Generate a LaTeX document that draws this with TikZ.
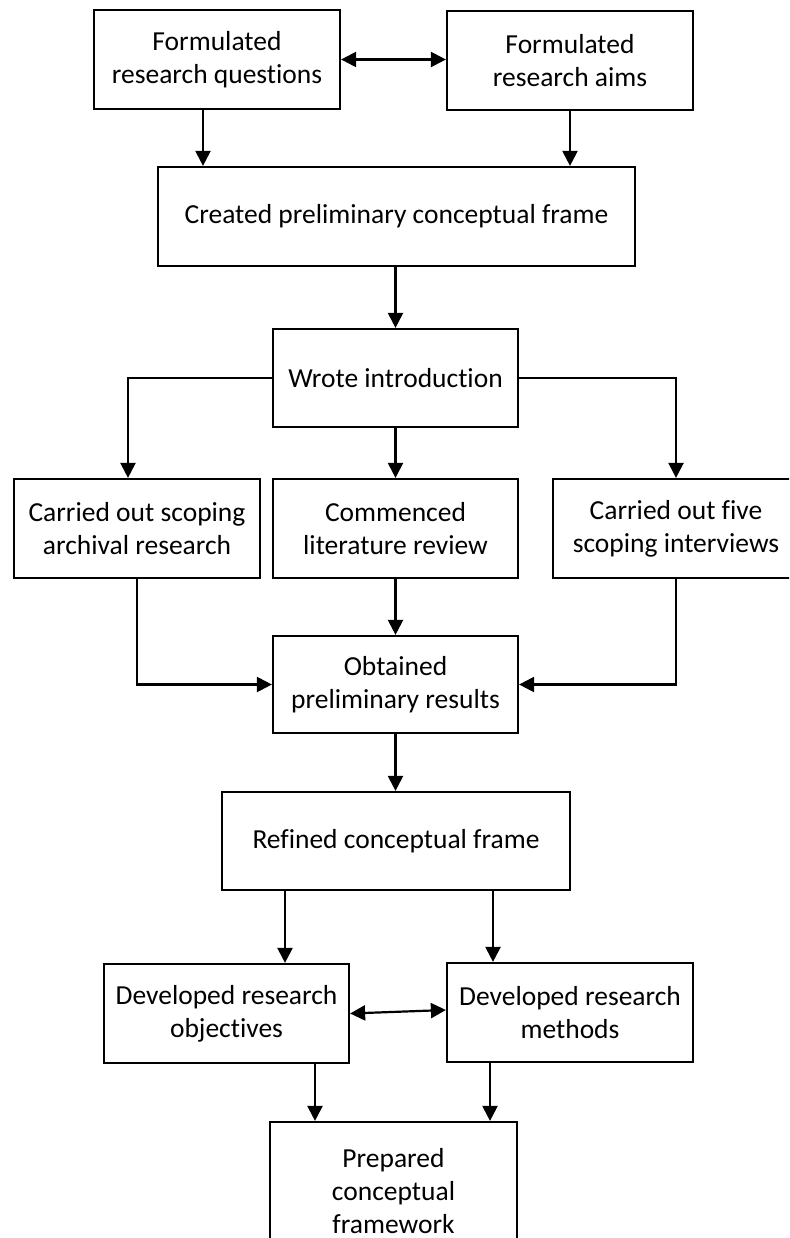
\documentclass[tikz,border=0pt]{standalone}
\usepackage{fontspec}
\setmainfont{Carlito}[RawFeature={-liga;-dlig;-clig}]
\usetikzlibrary{arrows.meta}
\tikzset{
  box/.style={draw, line width=2.2pt, align=center, inner sep=0pt,
    font=\fontsize{27.5}{33}\selectfont},
  arr/.style={line width=2.2pt, -{Triangle[length=15pt,width=15pt]}},
  darr/.style={line width=2.2pt, {Triangle[length=15pt,width=15pt]}-{Triangle[length=15pt,width=15pt]}}
}
\begin{document}
\begin{tikzpicture}[x=1pt,y=-1pt]
\useasboundingbox (0,0) rectangle (789,1238);
\clip (0,0) rectangle (789,1238);
\fill[white] (0,0) rectangle (789,1238);
\node[box, minimum width=246pt, minimum height=99pt] (b1) at (217,59.5) {Formulated\\research questions};
\node[box, minimum width=246pt, minimum height=99pt] (b2) at (570,60.5) {Formulated\\research aims};
\node[box, minimum width=477pt, minimum height=99pt] (b3) at (396.5,216.5) {Created preliminary conceptual frame};
\node[box, minimum width=245pt, minimum height=98pt] (b4) at (395.5,378) {Wrote introduction};
\node[box, minimum width=246pt, minimum height=99pt] (b5) at (137,528.5) {Carried out scoping\\archival research};
\node[box, minimum width=245pt, minimum height=99pt] (b6) at (395.5,528.5) {Commenced\\literature review};
\node[box, minimum width=246pt, minimum height=99pt] (b7) at (676,528.5) {Carried out five\\scoping interviews};
\node[box, minimum width=245pt, minimum height=97pt] (b8) at (395.5,684.5) {Obtained\\preliminary results};
\node[box, minimum width=348pt, minimum height=98pt] (b9) at (396,841) {Refined conceptual frame};
\node[box, minimum width=245pt, minimum height=99pt] (b10) at (226.5,1013.5) {Developed research\\objectives};
\node[box, minimum width=246pt, minimum height=99pt] (b11) at (570,1012.5) {Developed research\\methods};
\node[box, minimum width=247pt, minimum height=138pt] (b12) at (393.5,1191) {Prepared\\conceptual\\framework};

\draw[darr] (b1.east) -- (b1.east -| b2.west);
\draw[arr] ([xshift=-14pt]b1.south) -- ([xshift=-14pt]b1.south |- b3.north);
\draw[arr] (b2.south) -- (b2.south |- b3.north);
\draw[arr] (b3.south -| b4.north) -- (b4.north);
\draw[arr] (b4.west) -| ([xshift=-9pt]b5.north);
\draw[arr] (b4.south) -- (b6.north);
\draw[arr] (b4.east) -| (b7.north);
\draw[arr] (b5.south) |- (b8.west);
\draw[arr] (b6.south) -- (b8.north);
\draw[arr] (b7.south) |- (b8.east);
\draw[arr] (b8.south) -- (b8.south |- b9.north);
\draw[arr] ([xshift=-111pt]b9.south) -- ([xshift=-111pt]b9.south |- b10.north);
\draw[arr] ([xshift=97pt]b9.south) -- ([xshift=97pt]b9.south |- b11.north);
\draw[darr] (b10.east) -- ([yshift=2.5pt]b11.west);
\draw[arr] ([xshift=88.5pt]b10.south) -- ([xshift=88.5pt]b10.south |- b12.north);
\draw[arr] ([xshift=-80pt]b11.south) -- ([xshift=-80pt]b11.south |- b12.north);
\end{tikzpicture}
\end{document}
